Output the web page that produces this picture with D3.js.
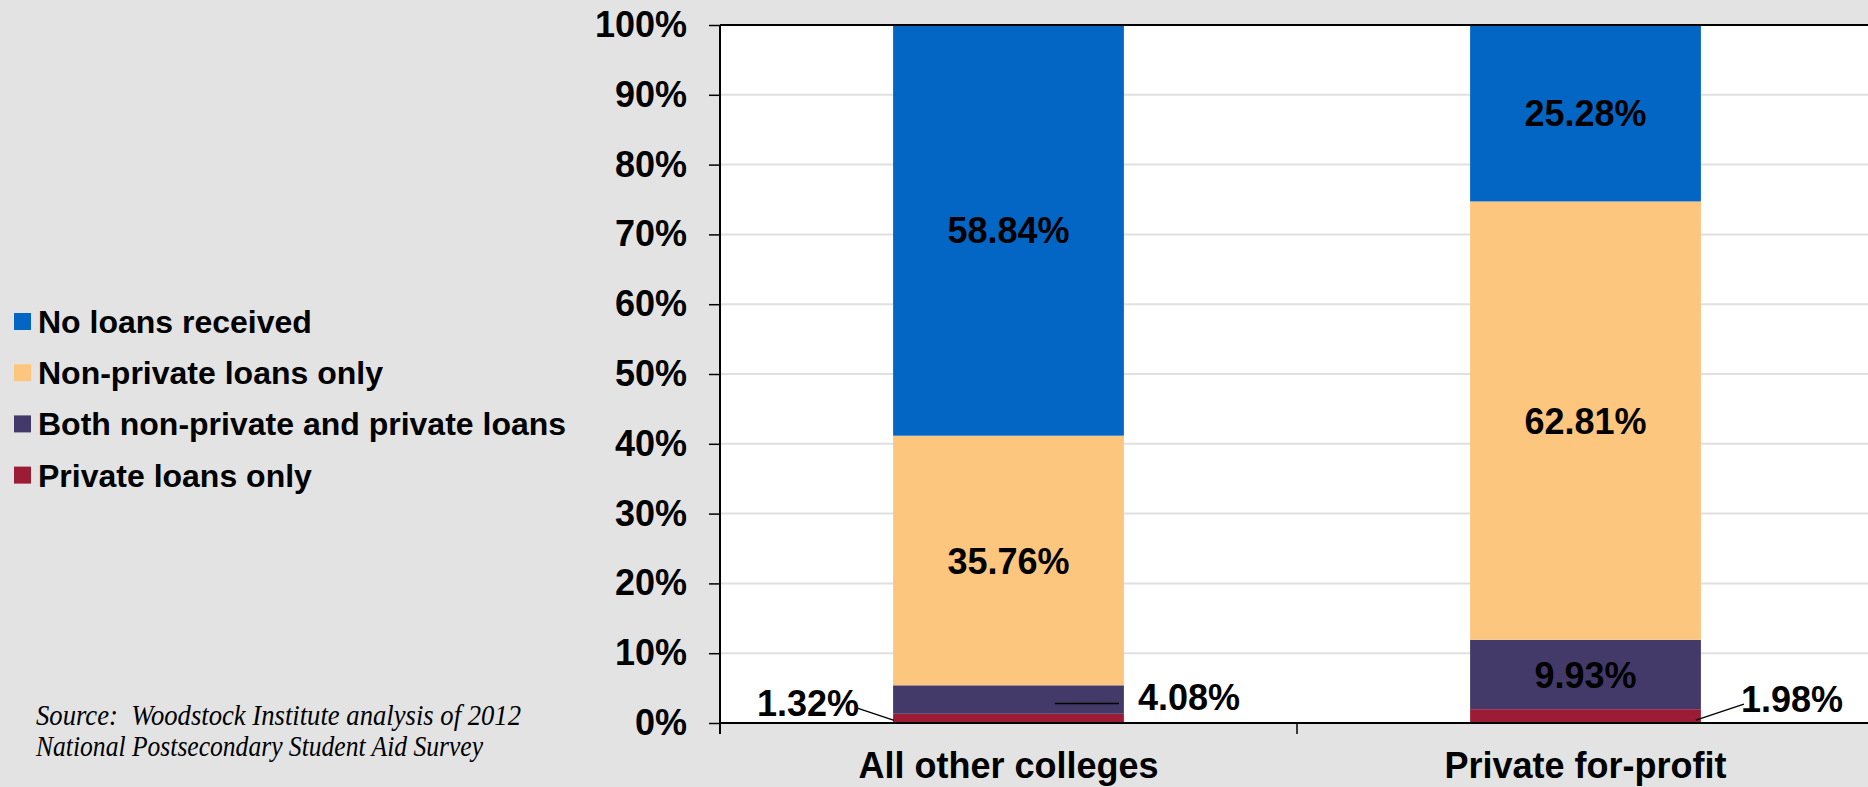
<!DOCTYPE html>
<html>
<head>
<meta charset="utf-8">
<script src="https://cdn.jsdelivr.net/npm/d3@7"></script>
<style>
  html, body { margin: 0; padding: 0; background: #e3e3e3; }
  svg { display: block; }
</style>
</head>
<body>
<svg id="chart" width="1868" height="787"></svg>
<script>
// Loan status of undergraduates, stacked shares by type of college
const categories = ["All other colleges", "Private for-profit"];
const seriesKeys = ["privateOnly", "both", "nonPrivate", "noLoans"];
const seriesNames = ["Private loans only", "Both non-private and private loans", "Non-private loans only", "No loans received"];
const privateOnly = [1.32, 1.98];
const bothLoans = [4.08, 9.93];
const nonPrivateOnly = [35.76, 62.81];
const noLoans = [58.84, 25.28];
const yTicks = [0, 10, 20, 30, 40, 50, 60, 70, 80, 90, 100];
const sourceLines = [
  "Source:  Woodstock Institute analysis of 2012",
  "National Postsecondary Student Aid Survey"
];

const colors = {
  privateOnly: "#9d1c35",
  both: "#433a69",
  nonPrivate: "#fcc67e",
  noLoans: "#0366c5"
};

const rows = categories.map((c, i) => ({
  category: c,
  privateOnly: privateOnly[i],
  both: bothLoans[i],
  nonPrivate: nonPrivateOnly[i],
  noLoans: noLoans[i]
}));

const svg = d3.select("#chart");
const W = 1868, H = 787;
const plot = { left: 720, top: 25, bottom: 723, right: 1874 };
const boldFont = "'Liberation Sans', Arial, sans-serif";

svg.append("rect").attr("width", W).attr("height", H).attr("fill", "#e3e3e3");

const x = d3.scaleBand()
  .domain(categories)
  .range([plot.left, plot.right])
  .paddingInner(0.6)
  .paddingOuter(0.3);
const xCat = d3.scaleBand().domain(categories).range([plot.left, plot.right]);
const y = d3.scaleLinear().domain([0, 100]).range([plot.bottom, plot.top]);

// plot area
svg.append("rect")
  .attr("x", plot.left).attr("y", plot.top)
  .attr("width", plot.right - plot.left).attr("height", plot.bottom - plot.top)
  .attr("fill", "#ffffff");

// gridlines
svg.append("g")
  .selectAll("line")
  .data(yTicks.filter(t => t > 0 && t < 100))
  .join("line")
  .attr("x1", plot.left).attr("x2", plot.right)
  .attr("y1", d => y(d)).attr("y2", d => y(d))
  .attr("stroke", "#e0e0e0").attr("stroke-width", 2);

// stacked bars
const stack = d3.stack().keys(seriesKeys);
const layers = stack(rows);

const barG = svg.append("g");
layers.forEach(layer => {
  barG.append("g")
    .attr("fill", colors[layer.key])
    .selectAll("rect")
    .data(layer)
    .join("rect")
    .attr("x", d => x(d.data.category))
    .attr("width", x.bandwidth())
    .attr("y", d => y(d[1]))
    .attr("height", d => y(d[0]) - y(d[1]));
});

// top border of plot area
svg.append("line")
  .attr("x1", plot.left).attr("x2", plot.right)
  .attr("y1", plot.top).attr("y2", plot.top)
  .attr("stroke", "#000").attr("stroke-width", 2);

// y axis
const yAxis = d3.axisLeft(y)
  .tickValues(yTicks)
  .tickSize(11)
  .tickPadding(22)
  .tickFormat(d => d + "%");
const yG = svg.append("g")
  .attr("transform", `translate(${plot.left},0)`)
  .call(yAxis);
yG.select(".domain").remove();
yG.selectAll(".tick line").attr("stroke", "#000").attr("stroke-width", 1.5);
yG.selectAll(".tick text")
  .attr("font-family", boldFont)
  .attr("font-weight", "bold")
  .attr("font-size", 36)
  .attr("fill", "#000");
svg.append("line")
  .attr("x1", plot.left).attr("x2", plot.left)
  .attr("y1", plot.top).attr("y2", plot.bottom + 11)
  .attr("stroke", "#000").attr("stroke-width", 2);

// x axis with ticks between categories
svg.append("line")
  .attr("x1", plot.left).attr("x2", plot.right)
  .attr("y1", plot.bottom).attr("y2", plot.bottom)
  .attr("stroke", "#000").attr("stroke-width", 2);
svg.append("g")
  .selectAll("line")
  .data(categories.slice(1))
  .join("line")
  .attr("x1", d => xCat(d)).attr("x2", d => xCat(d))
  .attr("y1", plot.bottom).attr("y2", plot.bottom + 11)
  .attr("stroke", "#000").attr("stroke-width", 1.5);

svg.append("g")
  .selectAll("text")
  .data(categories)
  .join("text")
  .attr("x", d => x(d) + x.bandwidth() / 2)
  .attr("y", 778)
  .attr("text-anchor", "middle")
  .attr("font-family", boldFont)
  .attr("font-weight", "bold")
  .attr("font-size", 36)
  .attr("fill", "#000")
  .text(d => d);

// value labels
const fmt = v => v.toFixed(2) + "%";
const labelG = svg.append("g")
  .attr("font-family", boldFont)
  .attr("font-weight", "bold")
  .attr("font-size", 36)
  .attr("fill", "#000");

const segMid = d => y((d[0] + d[1]) / 2);
const valueOf = (d, key) => d.data[key];

layers.forEach(layer => {
  layer.forEach((d, i) => {
    const cat = d.data.category;
    const bx = x(cat), bw = x.bandwidth();
    const v = valueOf(d, layer.key);
    const inside = (y(d[0]) - y(d[1])) > 45;
    if (inside) {
      labelG.append("text")
        .attr("x", bx + bw / 2)
        .attr("y", segMid(d) + 13)
        .attr("text-anchor", "middle")
        .text(fmt(v));
    } else if (layer.key === "privateOnly" && i === 0) {
      // label to the left, leader line into the bar
      const my = segMid(d);
      labelG.append("text")
        .attr("x", bx - 34).attr("y", my - 2)
        .attr("text-anchor", "end")
        .text(fmt(v));
      labelG.append("line")
        .attr("x1", bx - 35).attr("y1", my - 10)
        .attr("x2", bx + 1).attr("y2", my + 2)
        .attr("stroke", "#000").attr("stroke-width", 1.5);
    } else if (layer.key === "both" && i === 0) {
      const my = segMid(d);
      labelG.append("line")
        .attr("x1", bx + bw - 69).attr("y1", my + 4)
        .attr("x2", bx + bw - 5).attr("y2", my + 4)
        .attr("stroke", "#000").attr("stroke-width", 1.5);
      labelG.append("text")
        .attr("x", bx + bw + 14).attr("y", my + 10)
        .attr("text-anchor", "start")
        .text(fmt(v));
    } else {
      // label to the right with a rising leader line
      const my = segMid(d);
      labelG.append("line")
        .attr("x1", bx + bw - 5).attr("y1", my + 4)
        .attr("x2", bx + bw + 43).attr("y2", my - 12)
        .attr("stroke", "#000").attr("stroke-width", 1.5);
      labelG.append("text")
        .attr("x", bx + bw + 40).attr("y", my - 4)
        .attr("text-anchor", "start")
        .text(fmt(v));
    }
  });
});

// legend (top to bottom in reverse stack order)
const legendOrder = seriesKeys.slice().reverse();
const legend = svg.append("g");
legendOrder.forEach((key, i) => {
  const by = 333 + i * 51.2;
  legend.append("rect")
    .attr("x", 14).attr("y", by - 20)
    .attr("width", 17).attr("height", 17)
    .attr("fill", colors[key]);
  legend.append("text")
    .attr("x", 38).attr("y", by)
    .attr("font-family", boldFont)
    .attr("font-weight", "bold")
    .attr("font-size", 32)
    .attr("fill", "#000")
    .text(seriesNames[seriesKeys.indexOf(key)]);
});

// source note
const srcWidths = [485, 447];
svg.append("g")
  .selectAll("text")
  .data(sourceLines)
  .join("text")
  .attr("x", 36)
  .attr("y", (d, i) => 725 + i * 31)
  .attr("font-family", "'Liberation Serif', 'Times New Roman', serif")
  .attr("font-style", "italic")
  .attr("font-size", 30)
  .attr("fill", "#000")
  .style("white-space", "pre")
  .attr("textLength", (d, i) => srcWidths[i])
  .attr("lengthAdjust", "spacingAndGlyphs")
  .text(d => d);
</script>
</body>
</html>
